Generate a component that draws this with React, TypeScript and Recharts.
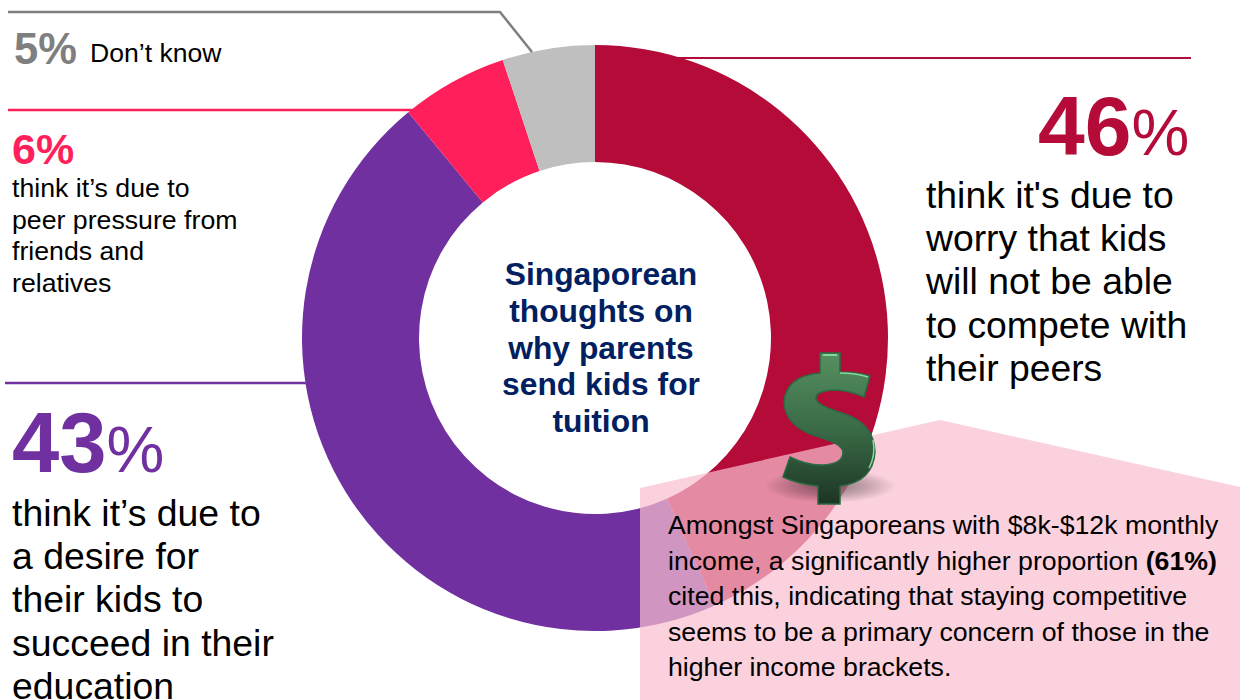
import { PieChart, Pie, Cell } from 'recharts'

const reasons = ['Competing with peers', 'Desire to succeed', 'Peer pressure', "Don't know"]
// slice sizes as drawn in the picture, measured from the slice edges
const sliceValues = [43.3, 45.7, 5.9, 5.1]
const sliceColors = ['#B40B38', '#7030A0', '#FF1F5A', '#BFBFBF']

const centerLines = ['Singaporean', 'thoughts on', 'why parents', 'send kids for', 'tuition']
const redLines = ["think it's due to", 'worry that kids', 'will not be able', 'to compete with', 'their peers']
const purpleLines = ['think it\u2019s due to', 'a desire for', 'their kids to', 'succeed in their', 'education']
const pinkLines = ['think it\u2019s due to', 'peer pressure from', 'friends and', 'relatives']

const chartData = reasons.map((name, i) => ({ name, value: sliceValues[i] }))

const font = '"Liberation Sans", Arial, sans-serif'

const TextBlock = ({ lines, left, top, size, lh, color = '#000', weight = 400, align = 'left', width }: any) => (
  <div
    style={{
      position: 'absolute',
      left,
      top,
      width,
      fontSize: size,
      lineHeight: `${lh}px`,
      color,
      fontWeight: weight,
      textAlign: align,
      whiteSpace: 'nowrap',
    }}
  >
    {lines.map((l: string, i: number) => (
      <div key={i}>{l}</div>
    ))}
  </div>
)

const Overlay = () => (
  <svg width={1240} height={700} style={{ position: 'absolute', left: 0, top: 0 }}>
    <defs>
      <linearGradient id="dollarFill" x1="0" y1="0" x2="0" y2="1">
        <stop offset="0%" stopColor="#55905F" />
        <stop offset="50%" stopColor="#3A6B47" />
        <stop offset="100%" stopColor="#1C3524" />
      </linearGradient>
      <radialGradient id="dollarShadow">
        <stop offset="0%" stopColor="#000" stopOpacity={0.45} />
        <stop offset="60%" stopColor="#000" stopOpacity={0.2} />
        <stop offset="100%" stopColor="#000" stopOpacity={0} />
      </radialGradient>
    </defs>
    <polygon points="640,700 640,488 940,420 1240,487 1240,700" fill="#F9BECF" fillOpacity={0.71} />
    <polyline points="8,12 500,12 532,52" fill="none" stroke="#7F7F7F" strokeWidth={2.5} />
    <line x1={8} y1={110} x2={414} y2={110} stroke="#FF1F5A" strokeWidth={2.5} />
    <line x1={5} y1={383} x2={306} y2={383} stroke="#7030A0" strokeWidth={2.5} />
    <line x1={597} y1={58} x2={1191} y2={58} stroke="#B40B38" strokeWidth={2} />
    <ellipse cx={830} cy={486} rx={66} ry={17} fill="url(#dollarShadow)" />
    <path
      d="M820 353 L840 353 L840 372 Q858 372 870 376 L864 397 Q848 390 834 390 Q815 391 816 399 Q818 406 845 414 Q874 424 875 452 Q873 482 840 486 L840 504 L818 504 L818 486 Q798 484 783 477 L790 457 Q808 466 824 465 Q843 464 843 452 Q842 444 822 438 Q785 428 784 402 Q786 376 820 373 Z"
      fill="url(#dollarFill)"
      stroke="#2B6A42"
      strokeWidth={1.5}
    />
    <path d="M823 355 L837 355" stroke="#86D89A" strokeWidth={2} />
    <path d="M840 373 Q856 373 868 377" fill="none" stroke="#86D89A" strokeWidth={1.5} />
    <path d="M873 440 Q876 455 869 468" fill="none" stroke="#86D89A" strokeWidth={1.5} />
  </svg>
)

export default function App() {
  return (
    <div
      style={{
        position: 'absolute',
        left: 0,
        top: 0,
        width: 1240,
        height: 700,
        overflow: 'hidden',
        background: '#fff',
        fontFamily: font,
      }}
    >
      <div style={{ position: 'absolute', left: 0, top: 0 }}>
        <PieChart width={1240} height={700} margin={{ top: 0, right: 0, bottom: 0, left: 0 }}>
          <Pie
            data={chartData}
            dataKey="value"
            cx={595}
            cy={338}
            innerRadius={176}
            outerRadius={293}
            startAngle={90}
            endAngle={-270}
            stroke="none"
            isAnimationActive={false}
          >
            {chartData.map((d, i) => (
              <Cell key={d.name} fill={sliceColors[i]} />
            ))}
          </Pie>
        </PieChart>
      </div>
      <Overlay />

      <TextBlock lines={centerLines} left={451} top={256} width={300} size={31.8} lh={36.8} color="#002060" weight={700} align="center" />

      <div style={{ position: 'absolute', left: 14, top: 24, fontSize: 43.5, lineHeight: '50px', fontWeight: 700, color: '#7F7F7F', whiteSpace: 'nowrap' }}>5%</div>
      <div style={{ position: 'absolute', left: 90, top: 38, fontSize: 26.6, lineHeight: '30px', whiteSpace: 'nowrap' }}>Don’t know</div>

      <div style={{ position: 'absolute', left: 12, top: 125, fontSize: 43, lineHeight: '48px', fontWeight: 700, color: '#FF1F5A', whiteSpace: 'nowrap' }}>6%</div>
      <TextBlock lines={pinkLines} left={12} top={173} size={26.7} lh={31.5} />

      <div style={{ position: 'absolute', left: 1038, top: 76, lineHeight: '100px', color: '#B40B38', whiteSpace: 'nowrap' }}>
        <span style={{ fontSize: 84, fontWeight: 700 }}>46</span>
        <span style={{ fontSize: 65 }}>%</span>
      </div>
      <TextBlock lines={redLines} left={926} top={174} size={37.3} lh={43.2} />

      <div style={{ position: 'absolute', left: 12, top: 393, lineHeight: '100px', color: '#7030A0', whiteSpace: 'nowrap' }}>
        <span style={{ fontSize: 85, fontWeight: 700 }}>43</span>
        <span style={{ fontSize: 65 }}>%</span>
      </div>
      <TextBlock lines={purpleLines} left={12} top={492} size={37.4} lh={43.2} />

      <div style={{ position: 'absolute', left: 668, top: 508, fontSize: 26.7, lineHeight: '35.5px', whiteSpace: 'nowrap', color: '#000' }}>
        <div>Amongst Singaporeans with $8k-$12k monthly</div>
        <div>
          income, a significantly higher proportion <b>(61%)</b>
        </div>
        <div>cited this, indicating that staying competitive</div>
        <div>seems to be a primary concern of those in the</div>
        <div>higher income brackets.</div>
      </div>
    </div>
  )
}
